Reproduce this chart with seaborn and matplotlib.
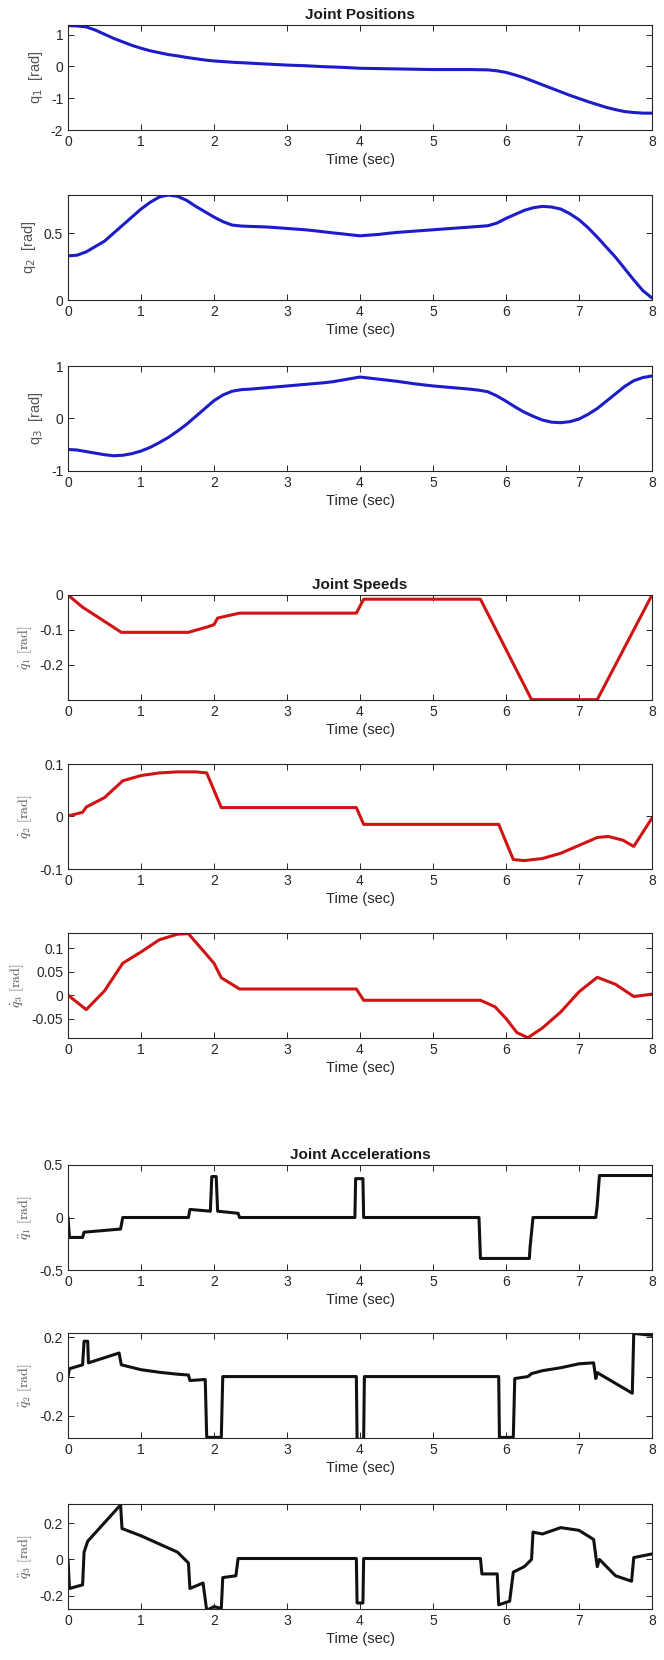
import numpy as np
import pandas as pd
import seaborn as sns
import matplotlib.pyplot as plt

## ---------------- data ----------------
t_pos = [0, 0.125, 0.25, 0.375, 0.5, 0.625, 0.75, 0.875, 1.0, 1.125, 1.25, 1.375, 1.5, 1.625, 1.75, 1.875,
         2.0, 2.125, 2.25, 2.375, 2.5, 2.625, 2.75, 2.875, 3.0, 3.125, 3.25, 3.375, 3.5, 3.625, 3.75, 3.875,
         4.0, 4.125, 4.25, 4.375, 4.5, 4.625, 4.75, 4.875, 5.0, 5.125, 5.25, 5.375, 5.5, 5.625, 5.75, 5.875,
         6.0, 6.125, 6.25, 6.375, 6.5, 6.625, 6.75, 6.875, 7.0, 7.125, 7.25, 7.375, 7.5, 7.625, 7.75, 7.875, 8.0]
q1 = [1.28, 1.27, 1.24, 1.14, 1.01, 0.88, 0.77, 0.66, 0.57, 0.49, 0.43, 0.37, 0.33, 0.28, 0.24, 0.20,
      0.17, 0.15, 0.13, 0.115, 0.10, 0.085, 0.07, 0.055, 0.04, 0.03, 0.02, 0.005, -0.01, -0.02, -0.03, -0.045,
      -0.06, -0.065, -0.07, -0.075, -0.08, -0.085, -0.09, -0.095, -0.10, -0.10, -0.10, -0.10, -0.10, -0.105, -0.11, -0.14,
      -0.19, -0.27, -0.36, -0.47, -0.58, -0.69, -0.80, -0.91, -1.01, -1.11, -1.20, -1.29, -1.36, -1.42, -1.45, -1.47, -1.47]
q2 = [0.33, 0.335, 0.36, 0.40, 0.44, 0.50, 0.56, 0.62, 0.68, 0.73, 0.77, 0.785, 0.775, 0.745, 0.70, 0.66,
      0.62, 0.585, 0.56, 0.553, 0.55, 0.548, 0.545, 0.54, 0.535, 0.53, 0.525, 0.518, 0.51, 0.502, 0.495, 0.487,
      0.48, 0.485, 0.49, 0.498, 0.505, 0.51, 0.515, 0.52, 0.525, 0.53, 0.535, 0.54, 0.545, 0.55, 0.555, 0.575,
      0.61, 0.64, 0.67, 0.69, 0.70, 0.695, 0.68, 0.645, 0.60, 0.54, 0.47, 0.395, 0.32, 0.235, 0.15, 0.07, 0.015]
q3 = [-0.59, -0.60, -0.63, -0.66, -0.69, -0.71, -0.70, -0.67, -0.62, -0.55, -0.46, -0.36, -0.24, -0.11, 0.04, 0.19,
      0.34, 0.45, 0.52, 0.55, 0.56, 0.575, 0.59, 0.605, 0.62, 0.635, 0.65, 0.665, 0.68, 0.70, 0.73, 0.76,
      0.79, 0.77, 0.75, 0.73, 0.71, 0.685, 0.66, 0.64, 0.62, 0.605, 0.59, 0.575, 0.56, 0.54, 0.51, 0.43,
      0.33, 0.22, 0.12, 0.04, -0.03, -0.07, -0.08, -0.06, -0.01, 0.08, 0.19, 0.33, 0.47, 0.61, 0.72, 0.78, 0.81]

t_qd1 = [0, 0.2, 0.4, 0.73, 1.65, 1.9, 2.0, 2.05, 2.35, 3.95, 4.05, 5.65, 6.35, 7.25, 8.0]
qd1 = [0, -0.035, -0.062, -0.107, -0.107, -0.092, -0.085, -0.066, -0.052, -0.052, -0.012, -0.012, -0.3, -0.3, 0]

t_qd2 = [0, 0.2, 0.25, 0.5, 0.75, 1.0, 1.25, 1.5, 1.75, 1.9, 2.1, 3.95, 4.05, 5.9, 6.1, 6.25,
         6.5, 6.75, 7.0, 7.25, 7.4, 7.6, 7.75, 8.0]
qd2 = [0.001, 0.008, 0.018, 0.036, 0.068, 0.078, 0.083, 0.085, 0.085, 0.083, 0.017, 0.017, -0.015, -0.015, -0.082, -0.084,
       -0.08, -0.07, -0.055, -0.04, -0.038, -0.045, -0.057, -0.003]

t_qd3 = [0, 0.25, 0.5, 0.75, 1.0, 1.25, 1.5, 1.65, 1.85, 2.0, 2.1, 2.35, 3.95, 4.05, 5.65, 5.85,
         6.0, 6.15, 6.3, 6.5, 6.75, 7.0, 7.25, 7.5, 7.75, 8.0]
qd3 = [0, -0.031, 0.009, 0.068, 0.092, 0.118, 0.13, 0.131, 0.095, 0.068, 0.037, 0.013, 0.013, -0.011, -0.011, -0.025,
       -0.05, -0.08, -0.091, -0.07, -0.036, 0.007, 0.038, 0.023, -0.003, 0.002]

t_qdd1 = [0, 0.02, 0.2, 0.22, 0.72, 0.75, 1.65, 1.67, 1.95, 1.97, 2.03, 2.05, 2.33, 2.35, 3.93, 3.94,
          4.04, 4.05, 5.63, 5.65, 6.32, 6.33, 6.37, 7.23, 7.25, 7.28, 8.0]
qdd1 = [0, -0.19, -0.19, -0.14, -0.11, 0, 0, 0.077, 0.06, 0.39, 0.39, 0.06, 0.04, 0, 0, 0.37,
        0.37, 0, 0, -0.39, -0.39, -0.28, 0, 0, 0.12, 0.4, 0.4]

t_qdd2 = [0, 0.02, 0.2, 0.22, 0.27, 0.28, 0.7, 0.73, 1.0, 1.25, 1.5, 1.65, 1.67, 1.88, 1.9, 2.1,
          2.12, 3.95, 3.96, 4.05, 4.06, 5.9, 5.91, 6.1, 6.12, 6.3, 6.35, 6.5, 6.75, 7.0, 7.2, 7.23,
          7.25, 7.73, 7.75, 8.0]
qdd2 = [0, 0.04, 0.06, 0.18, 0.18, 0.07, 0.12, 0.06, 0.035, 0.022, 0.012, 0.008, -0.02, -0.015, -0.31, -0.31,
        0, 0, -0.32, -0.32, 0, 0, -0.31, -0.31, -0.01, 0, 0.015, 0.03, 0.045, 0.065, 0.07, -0.01,
        0.02, -0.085, 0.22, 0.21]

t_qdd3 = [0, 0.02, 0.2, 0.22, 0.27, 0.72, 0.74, 1.0, 1.25, 1.5, 1.65, 1.67, 1.85, 1.9, 2.0, 2.1,
          2.12, 2.3, 2.33, 3.95, 3.96, 4.04, 4.05, 5.65, 5.67, 5.88, 5.9, 6.05, 6.1, 6.25, 6.35, 6.37,
          6.5, 6.75, 7.0, 7.2, 7.25, 7.28, 7.5, 7.72, 7.75, 8.0]
qdd3 = [0, -0.16, -0.14, 0.04, 0.1, 0.3, 0.17, 0.13, 0.085, 0.04, -0.02, -0.16, -0.13, -0.28, -0.26, -0.27,
        -0.1, -0.09, 0.005, 0.005, -0.24, -0.24, 0.005, 0.005, -0.08, -0.08, -0.25, -0.23, -0.07, -0.04, 0.0, 0.15,
        0.14, 0.175, 0.16, 0.11, -0.04, 0.0, -0.09, -0.12, 0.01, 0.03]

## ---------------- style ----------------
sns.set_style("ticks")
plt.rcParams['font.family'] = ['Liberation Sans', 'DejaVu Sans']
plt.rcParams['xtick.direction'] = 'in'
plt.rcParams['ytick.direction'] = 'in'
plt.rcParams['xtick.top'] = True
plt.rcParams['ytick.right'] = True
plt.rcParams['axes.edgecolor'] = '#262626'
plt.rcParams['axes.linewidth'] = 0.8

fig = plt.figure(figsize=(6.64, 16.6), dpi=100)
W, H = 664.0, 1660.0
left_px, right_px, h_px = 68, 652, 105
tops = [25, 195, 366, 595, 764, 933, 1165, 1333, 1504]

panels = [
    (t_pos, q1, '#1c1cc8', 'q$_1$  [rad]', (-2, 1.3), [-2, -1, 0, 1], None, 'Joint Positions'),
    (t_pos, q2, '#1c1cc8', 'q$_2$  [rad]', (0, 0.785), [0, 0.5], None, None),
    (t_pos, q3, '#1c1cc8', 'q$_3$  [rad]', (-1, 1), [-1, 0, 1], None, None),
    (t_qd1, qd1, '#d01414', r'$\dot{q}_1\ [\mathrm{rad}]$', (-0.301, 0), [-0.2, -0.1, 0], 'cm', 'Joint Speeds'),
    (t_qd2, qd2, '#d01414', r'$\dot{q}_2\ [\mathrm{rad}]$', (-0.1, 0.1), [-0.1, 0, 0.1], 'cm', None),
    (t_qd3, qd3, '#d01414', r'$\dot{q}_3\ [\mathrm{rad}]$', (-0.0915, 0.1325), [-0.05, 0, 0.05, 0.1], 'cm', None),
    (t_qdd1, qdd1, '#111111', r'$\ddot{q}_1\ [\mathrm{rad}]$', (-0.5, 0.5), [-0.5, 0, 0.5], 'cm', 'Joint Accelerations'),
    (t_qdd2, qdd2, '#111111', r'$\ddot{q}_2\ [\mathrm{rad}]$', (-0.313, 0.222), [-0.2, 0, 0.2], 'cm', None),
    (t_qdd3, qdd3, '#111111', r'$\ddot{q}_3\ [\mathrm{rad}]$', (-0.273, 0.305), [-0.2, 0, 0.2], 'cm', None),
]

for top, (tt, yy, col, ylab, ylim, yticks, mathfam, title) in zip(tops, panels):
    ax = fig.add_axes([left_px / W, 1 - (top + h_px) / H, (right_px - left_px) / W, h_px / H])
    df = pd.DataFrame({'t': tt, 'v': yy})
    sns.lineplot(data=df, x='t', y='v', ax=ax, color=col, linewidth=2.2, sort=False)
    ax.set_xlim(0, 8)
    ax.set_ylim(*ylim)
    ax.set_xticks(range(9))
    ax.set_yticks(yticks)
    ax.set_yticklabels([('%g' % v) for v in yticks])
    ax.tick_params(labelsize=10, colors='#262626', length=4, width=0.7)
    ax.set_xlabel('Time (sec)', fontsize=10.5, color='#262626', labelpad=3)
    if mathfam:
        ax.set_ylabel(ylab, fontsize=10, color='#555555', math_fontfamily=mathfam, labelpad=4)
    else:
        ax.set_ylabel(ylab, fontsize=10.5, color='#555555', labelpad=4)
    if title:
        ax.set_title(title, fontsize=11, fontweight='bold', color='#1a1a1a', pad=4)
    for s in ax.spines.values():
        s.set_visible(True)

fig.savefig('out.png', dpi=100, facecolor='white')
